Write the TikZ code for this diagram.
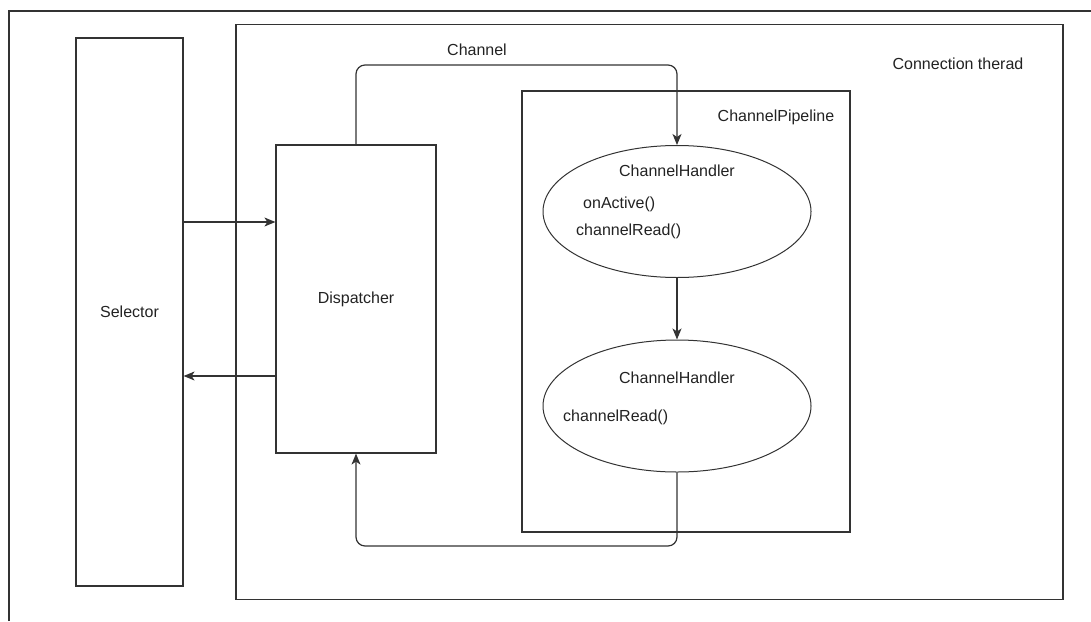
\documentclass[tikz,border=0pt]{standalone}
\usepackage{fontspec}
\setmainfont{Liberation Sans}
\definecolor{netLine}{HTML}{333333}
\definecolor{netText}{HTML}{222222}
\usetikzlibrary{shapes.geometric, arrows.meta, positioning}
\tikzset{
  box/.style={draw=netLine, line width=1.2pt, minimum width=#1, inner sep=0pt},
  handler/.style={ellipse, draw=netLine, line width=1pt, minimum width=268pt,
    minimum height=132pt, inner sep=0pt},
  txt/.style={text=netText, font=\fontsize{16}{19}\selectfont, inner sep=0pt},
  flow/.style={draw=netLine, line width=1.2pt,
    -{Stealth[length=11pt, width=9pt, inset=3pt]}},
  roundflow/.style={flow, rounded corners=9pt}
}

\begin{document}
\begin{tikzpicture}[x=1pt, y=-1pt]
  \useasboundingbox (0,0) rectangle (1091,621);
  % outer frame, only top and left edge show
  \draw[netLine, line width=1.2pt] (9,621) -- (9,11) -- (1091,11);

  \node[box=827pt, minimum height=575pt] (thread) at (649.5,312) {};
  \node[box=107pt, minimum height=548pt] (sel) at (129.5,312) {};
  \node[box=160pt, minimum height=308pt] (disp) at (356,299) {};
  \node[box=328pt, minimum height=441pt] (pipe) at (686,311.5) {};
  \node[handler] (h1) at (677,211.5) {};
  \node[handler] (h2) at (677,406) {};

  \node[txt] (selText) at (sel) {Selector};
  \node[txt] (dispText) at (disp) {Dispatcher};
  \node[txt] (threadText) at (958,64) {Connection therad};
  \node[txt] (pipeText) at (776,117) {ChannelPipeline};
  \node[txt] (h1Title) at (677,171) {ChannelHandler};
  \node[txt, anchor=west] (h1Active) at (583,204) {onActive()};
  \node[txt, anchor=west] (h1Read) at (576,231) {channelRead()};
  \node[txt] (h2Title) at (677,378) {ChannelHandler};
  \node[txt, anchor=west] (h2Read) at (563,417) {channelRead()};

  % channel hand-off and return
  \coordinate (busTop) at (517,65);
  \coordinate (busLow) at (517,546);
  \node[txt] (chanText) at (477,50) {Channel};
  \draw[roundflow] (disp.north) |- (busTop) -| (h1.north);
  \draw[flow] (h1.south) -- (h2.north);
  \draw[roundflow] (h2.south) |- (busLow) -| (disp.south);

  \draw[flow] (sel.east |- 0,222) -- (disp.west |- 0,222);
  \draw[flow] (disp.west |- 0,376) -- (sel.east |- 0,376);
\end{tikzpicture}
\end{document}
